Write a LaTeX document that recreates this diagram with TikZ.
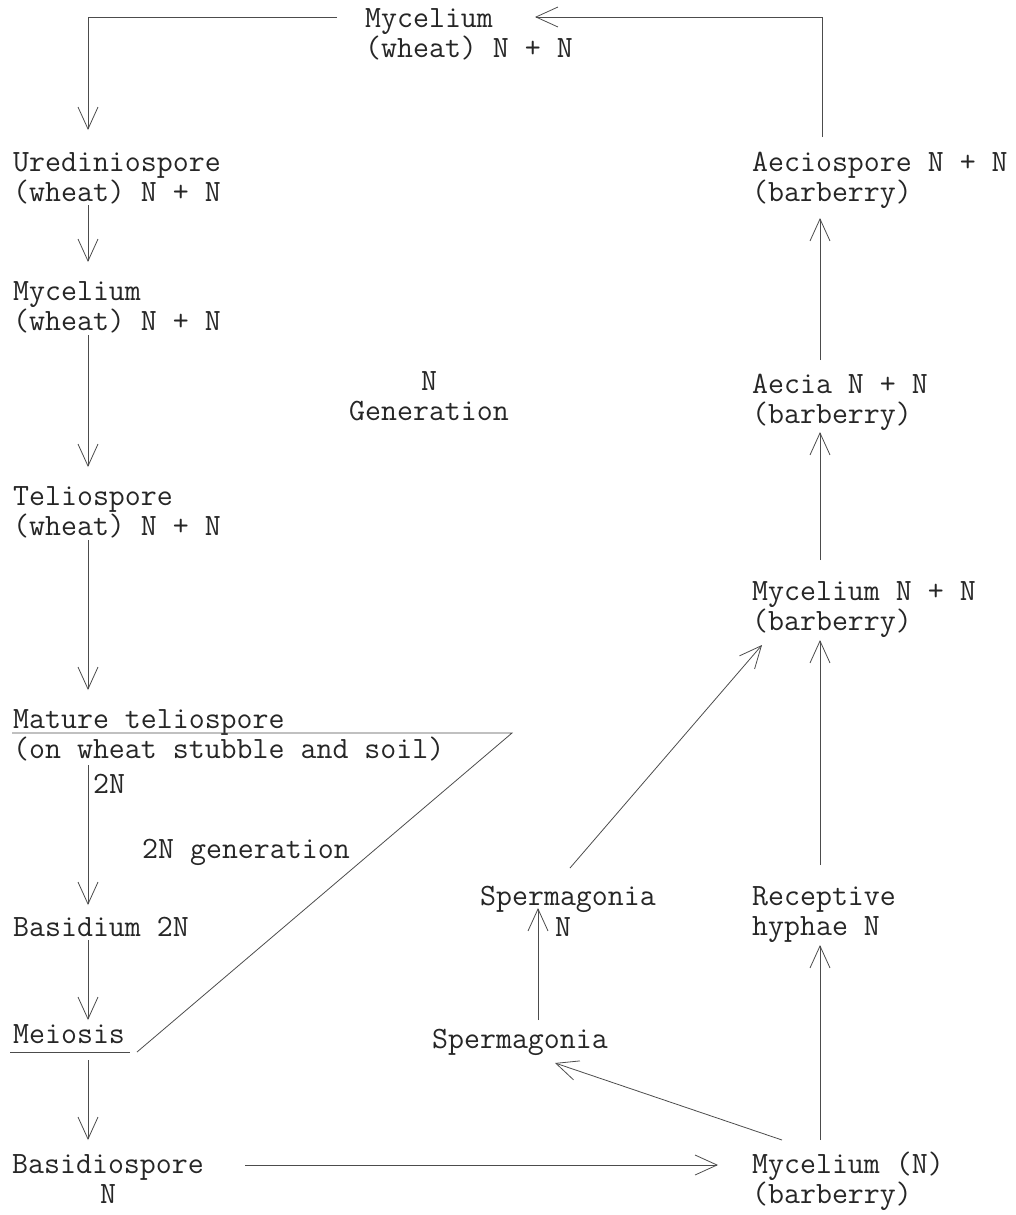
\documentclass[tikz,border=0pt]{standalone}
\usepackage{fontspec}
\usetikzlibrary{arrows.meta}
\begin{document}
\begin{tikzpicture}[x=1pt,y=-1pt,
  lbl/.style={anchor=base west,inner sep=0pt,align=left,
    font=\ttfamily\fontsize{31}{30}\selectfont,text=black!85},
  lnk/.style={draw=black!70,line width=0.8pt},
  arr/.style={lnk,-{Straight Barb[length=22pt,width=20pt,line width=0.8pt]}},
]
\useasboundingbox (0,0) rectangle (1016,1215);

% stages of the cycle (two-line labels are placed by the baseline of their last line)
\node[lbl] (mycw)   at (365,58)   {Mycelium\\(wheat) N + N};
\node[lbl] (ured)   at (13,201)   {Urediniospore\\(wheat) N + N};
\node[lbl] (mycw2)  at (13,330)   {Mycelium\\(wheat) N + N};
\node[lbl,align=center,anchor=base] (ngen) at (429,420) {N\\Generation};
\node[lbl] (telio)  at (13,535)   {Teliospore\\(wheat) N + N};
\node[lbl] (mature) at (13,758)   {Mature teliospore\\(on wheat stubble and soil)};
\node[lbl] (twoN)   at (93,793)   {2N};
\node[lbl] (gen2)   at (142,858)  {2N generation};
\node[lbl] (basid)  at (13,936)   {Basidium 2N};
\node[lbl] (meio)   at (13,1043)  {Meiosis};
\node[lbl,align=center,anchor=base] (bspore) at (108,1203) {Basidiospore\\N};
\node[lbl] (mycb)   at (752,1203) {Mycelium (N)\\(barberry)};
\node[lbl] (spA)    at (432,1048) {Spermagonia};
\node[lbl] (spB)    at (480,905)  {Spermagonia};
\node[lbl] (spBn)   at (555,936)  {N};
\node[lbl] (recep)  at (752,935)  {Receptive\\hyphae N};
\node[lbl] (mycnn)  at (752,630)  {Mycelium N + N\\(barberry)};
\node[lbl] (aecia)  at (752,423)  {Aecia N + N\\(barberry)};
\node[lbl] (aecio)  at (752,201)  {Aeciospore N + N\\(barberry)};

% connector end points
\coordinate (t1) at (337,17);  \coordinate (t2) at (88,17);   \coordinate (t3) at (88,130);
\coordinate (r1) at (822,137); \coordinate (r2) at (822,17);  \coordinate (r3) at (535,17);
\coordinate (l1a) at (88,205);  \coordinate (l1b) at (88,262);
\coordinate (l2a) at (88,335);  \coordinate (l2b) at (88,467);
\coordinate (l3a) at (88,540);  \coordinate (l3b) at (88,690);
\coordinate (l4a) at (88,765);  \coordinate (l4b) at (88,905);
\coordinate (l5a) at (88,940);  \coordinate (l5b) at (88,1020);
\coordinate (l6a) at (88,1060); \coordinate (l6b) at (88,1140);
\coordinate (u1) at (12,733);  \coordinate (u2) at (512,733); \coordinate (u3) at (137,1052);
\coordinate (m1) at (10,1052); \coordinate (m2) at (130,1052);
\coordinate (b1) at (245,1165); \coordinate (b2) at (718,1165);
\coordinate (s1) at (782,1140); \coordinate (s2) at (555,1063);
\coordinate (s3) at (538,1020); \coordinate (s4) at (538,908);
\coordinate (s5) at (570,868);  \coordinate (s6) at (762,645);
\coordinate (k1a) at (820,1140); \coordinate (k1b) at (820,945);
\coordinate (k2a) at (820,865);  \coordinate (k2b) at (820,640);
\coordinate (k3a) at (820,560);  \coordinate (k3b) at (820,432);
\coordinate (k4a) at (820,360);  \coordinate (k4b) at (820,218);

% wheat phase
\draw[arr] (t1) -- (t2) -- (t3);
\draw[arr] (l1a) -- (l1b);
\draw[arr] (l2a) -- (l2b);
\draw[arr] (l3a) -- (l3b);
\draw[arr] (l4a) -- (l4b);
\draw[arr] (l5a) -- (l5b);
\draw[arr] (l6a) -- (l6b);

% 2N generation wedge
\draw[lnk] (u1) -- (u2) -- (u3);
\draw[lnk] (m1) -- (m2);

% barberry phase
\draw[arr] (b1) -- (b2);
\draw[arr] (s1) -- (s2);
\draw[arr] (s3) -- (s4);
\draw[arr] (s5) -- (s6);
\draw[arr] (k1a) -- (k1b);
\draw[arr] (k2a) -- (k2b);
\draw[arr] (k3a) -- (k3b);
\draw[arr] (k4a) -- (k4b);
\draw[arr] (r1) -- (r2) -- (r3);
\end{tikzpicture}
\end{document}
